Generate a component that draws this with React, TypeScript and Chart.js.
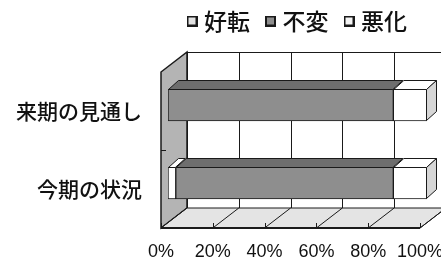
import React, { useEffect, useRef } from 'react';
import { Chart, registerables } from 'chart.js';

Chart.register(...registerables);

// ---- data ----
const categories = ['来期の見通し', '今期の状況'];
const seriesNames = ['好転', '不変', '悪化'];
const improved = [0, 3];
const unchanged = [87, 84];
const worsened = [13, 13];
const xTickValues = [0, 20, 40, 60, 80, 100];

// ---- styles ----
const frontColors = ['#ffffff', '#8e8e8e', '#ffffff'];
const topColors = ['#ffffff', '#6e6e6e', '#ffffff'];
const legendFills = ['#e2e2e2', '#8e8e8e', '#f4f4f4'];
const sideColor = '#d6d6d6';
const wallColor = '#b4b4b4';
const floorColor = '#e4e4e4';
const lineColor = '#1a1a1a';
const CJK = '"Noto Sans CJK JP", "Noto Sans CJK SC", sans-serif';

// 3D offsets relative to the bar plane (chart area)
const FRONT = { dx: -7, dy: 6 };
const BACK = { dx: 19, dy: -14 };
const BAR_DEPTH = { dx: 10, dy: -9 };

function makeLegendBox(fill: string) {
  const c = document.createElement('canvas');
  c.width = 11;
  c.height = 11;
  const g = c.getContext('2d')!;
  g.fillStyle = lineColor;
  g.fillRect(0, 0, 11, 11);
  g.fillStyle = fill;
  g.fillRect(2, 2, 7, 7);
  return c;
}

const depthPlugin = {
  id: 'depth3d',
  beforeDatasetsDraw(chart: any) {
    const { ctx, chartArea } = chart;
    const { left, right, top, bottom } = chartArea;
    const xs = chart.scales.x;
    const ys = chart.scales.y;
    ctx.save();
    ctx.strokeStyle = lineColor;
    ctx.lineWidth = 1;

    // back wall grid
    ctx.beginPath();
    ctx.moveTo(left + BACK.dx, top + BACK.dy + 0.5);
    ctx.lineTo(right + BACK.dx + 30, top + BACK.dy + 0.5);
    xTickValues.forEach((v) => {
      const px = Math.round(xs.getPixelForValue(v) + BACK.dx) + 0.5;
      ctx.moveTo(px, top + BACK.dy);
      ctx.lineTo(px, bottom + BACK.dy);
    });
    ctx.stroke();

    // left wall
    ctx.beginPath();
    ctx.moveTo(left + FRONT.dx, top + FRONT.dy);
    ctx.lineTo(left + BACK.dx, top + BACK.dy);
    ctx.lineTo(left + BACK.dx, bottom + BACK.dy);
    ctx.lineTo(left + FRONT.dx, bottom + FRONT.dy);
    ctx.closePath();
    ctx.fillStyle = wallColor;
    ctx.fill();
    ctx.lineWidth = 1.5;
    ctx.stroke();

    // floor
    const x0 = xs.getPixelForValue(xTickValues[0]);
    const x1 = xs.getPixelForValue(xTickValues[xTickValues.length - 1]);
    ctx.beginPath();
    ctx.moveTo(x0 + FRONT.dx, bottom + FRONT.dy);
    ctx.lineTo(x0 + BACK.dx, bottom + BACK.dy);
    ctx.lineTo(x1 + BACK.dx, bottom + BACK.dy);
    ctx.lineTo(x1 + FRONT.dx, bottom + FRONT.dy);
    ctx.closePath();
    ctx.fillStyle = floorColor;
    ctx.fill();
    ctx.lineWidth = 1;
    ctx.stroke();
    ctx.beginPath();
    xTickValues.forEach((v) => {
      const px = xs.getPixelForValue(v);
      ctx.moveTo(px + FRONT.dx, bottom + FRONT.dy);
      ctx.lineTo(px + BACK.dx, bottom + BACK.dy);
      const fx = Math.round(px + FRONT.dx) + 0.5;
      ctx.moveTo(fx, bottom + FRONT.dy);
      ctx.lineTo(fx, bottom + FRONT.dy - 5);
    });
    ctx.stroke();
    // thick front floor edge
    ctx.beginPath();
    ctx.lineWidth = 2;
    ctx.moveTo(x0 + FRONT.dx, bottom + FRONT.dy);
    ctx.lineTo(x1 + FRONT.dx, bottom + FRONT.dy);
    ctx.stroke();

    // category separator ticks on left wall
    ctx.beginPath();
    ctx.lineWidth = 1;
    for (let i = 0; i < categories.length - 1; i++) {
      const yb = (ys.getPixelForValue(i) + ys.getPixelForValue(i + 1)) / 2;
      const yy = Math.round(yb + FRONT.dy) + 0.5;
      ctx.moveTo(left + FRONT.dx, yy);
      ctx.lineTo(left + FRONT.dx + 5, yy);
    }
    ctx.stroke();
    ctx.restore();
  },
  afterDatasetsDraw(chart: any) {
    const { ctx } = chart;
    const metas = chart.getSortedVisibleDatasetMetas();
    ctx.save();
    ctx.strokeStyle = lineColor;
    ctx.lineWidth = 1;
    metas.forEach((meta: any, di: number) => {
      meta.data.forEach((bar: any) => {
        const { x, y, base, height } = bar.getProps(['x', 'y', 'base', 'height'], true);
        const t = y - height / 2;
        const b = y + height / 2;
        const xa = Math.min(x, base);
        const xb = Math.max(x, base);
        if (xb - xa < 0.5) return;
        // top face
        ctx.beginPath();
        ctx.moveTo(xa + 0.5, t + 0.5);
        ctx.lineTo(xb - 0.5, t + 0.5);
        ctx.lineTo(xb - 0.5 + BAR_DEPTH.dx, t + 0.5 + BAR_DEPTH.dy);
        ctx.lineTo(xa + 0.5 + BAR_DEPTH.dx, t + 0.5 + BAR_DEPTH.dy);
        ctx.closePath();
        ctx.fillStyle = topColors[di];
        ctx.fill();
        ctx.stroke();
        if (di === metas.length - 1) {
          ctx.beginPath();
          ctx.moveTo(xb - 0.5, t + 0.5);
          ctx.lineTo(xb - 0.5 + BAR_DEPTH.dx, t + 0.5 + BAR_DEPTH.dy);
          ctx.lineTo(xb - 0.5 + BAR_DEPTH.dx, b - 0.5 + BAR_DEPTH.dy);
          ctx.lineTo(xb - 0.5, b - 0.5);
          ctx.closePath();
          ctx.fillStyle = sideColor;
          ctx.fill();
          ctx.stroke();
        }
      });
    });
    ctx.restore();
  },
};

export default function App() {
  const ref = useRef<HTMLCanvasElement | null>(null);
  useEffect(() => {
    document.body.style.margin = '0';
    const canvas = ref.current;
    if (!canvas) return;
    const seriesData = [improved, unchanged, worsened];
    const legendBoxes = legendFills.map(makeLegendBox);
    const defaultLabels = Chart.defaults.plugins.legend.labels.generateLabels;
    const chart = new Chart(canvas, {
      type: 'bar',
      data: {
        labels: categories,
        datasets: seriesNames.map((name, i) => ({
          label: name,
          data: seriesData[i],
          backgroundColor: frontColors[i],
          borderColor: lineColor,
          borderWidth: 1,
          borderSkipped: false,
          barThickness: 32,
        })),
      },
      options: {
        indexAxis: 'y',
        responsive: false,
        animation: false,
        layout: { padding: { left: 0, right: 14, top: -10.5, bottom: 0 } },
        plugins: {
          legend: {
            position: 'top',
            align: 'end',
            labels: {
              font: { family: CJK, size: 23, weight: 500 },
              color: '#111',
              usePointStyle: true,
              pointStyleWidth: 1,
              boxHeight: 11,
              padding: 20,
              generateLabels: (c: any) =>
                defaultLabels(c).map((item: any, i: number) => ({
                  ...item,
                  pointStyle: legendBoxes[i],
                })),
            },
          },
          tooltip: { enabled: false },
        },
        scales: {
          x: {
            type: 'linear',
            stacked: true,
            position: 'bottom',
            min: 0,
            max: 100,
            ticks: {
              stepSize: 20,
              callback: (v: any) => v + '%',
              font: { family: '"Liberation Sans", Arial, sans-serif', size: 18 },
              color: '#111',
              labelOffset: FRONT.dx,
              padding: 19,
              maxRotation: 0,
              autoSkip: false,
            },
            grid: { display: false, drawTicks: false },
            border: { display: false },
            afterFit: (s: any) => {
              s.height = 40;
              s.paddingLeft = 0;
              s.paddingRight = 0;
            },
          },
          xTop: {
            type: 'linear',
            position: 'top',
            display: true,
            min: 0,
            max: 100,
            ticks: { display: false },
            grid: { display: false, drawTicks: false },
            border: { display: false },
            afterFit: (s: any) => {
              s.height = 23.5;
              s.paddingLeft = 0;
              s.paddingRight = 0;
            },
          },
          y: {
            type: 'category',
            stacked: true,
            ticks: {
              font: { family: CJK, size: 21, weight: 500 },
              color: '#111',
              labelOffset: FRONT.dy,
              padding: 26,
            },
            grid: { display: false, drawTicks: false },
            border: { display: false },
            afterFit: (s: any) => {
              s.width = 168;
            },
          },
        },
      } as any,
      plugins: [depthPlugin],
    });
    return () => chart.destroy();
  }, []);
  return (
    <div style={{ width: 441, height: 262 }}>
      <canvas ref={ref} width={441} height={262} />
    </div>
  );
}
